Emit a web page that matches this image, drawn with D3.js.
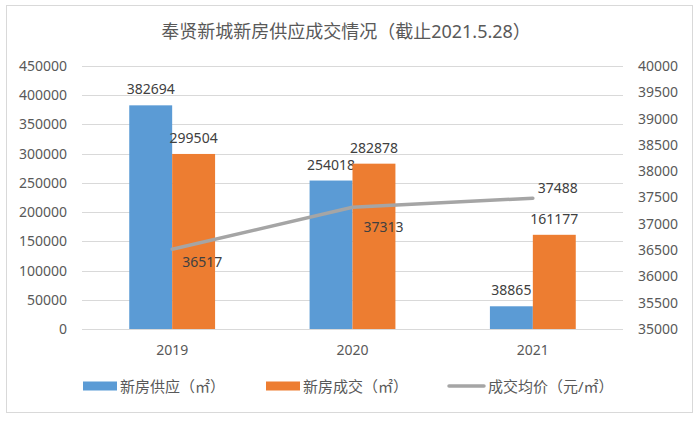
<!DOCTYPE html>
<html><head><meta charset="utf-8">
<script src="https://cdn.jsdelivr.net/npm/d3@7"></script>
<style>body{margin:0;background:#fff}svg{display:block}text{font-family:"Noto Sans","Noto Sans CJK SC",sans-serif}</style>
</head><body>
<script>
const categories = ["2019", "2020", "2021"];
const supply = [382694, 254018, 38865];
const deals = [299504, 282878, 161177];
const avgPrice = [36517, 37313, 37488];
const leftTicks = [0, 50000, 100000, 150000, 200000, 250000, 300000, 350000, 400000, 450000];
const rightTicks = [35000, 35500, 36000, 36500, 37000, 37500, 38000, 38500, 39000, 39500, 40000];
const seriesNames = ["新房供应（㎡）", "新房成交（㎡）", "成交均价（元/㎡）"];
const title = "奉贤新城新房供应成交情况（截止2021.5.28）";

const W = 699, H = 422;
const svg = d3.select("body").append("svg").attr("width", W).attr("height", H);
svg.append("rect").attr("x", 6.5).attr("y", 5.5).attr("width", 686).attr("height", 407)
  .attr("fill", "#fff").attr("stroke", "#d9d9d9");

svg.append("text").attr("x", 346).attr("y", 38).attr("text-anchor", "middle")
  .attr("font-size", 18).attr("fill", "#595959").text(title);

const x0 = 82, x1 = 623, yTop = 66, yBot = 329;
const x = d3.scaleBand().domain(categories).range([x0, x1]);
const yL = d3.scaleLinear().domain([0, 450000]).range([yBot, yTop]);
const yR = d3.scaleLinear().domain([35000, 40000]).range([yBot, yTop]);

// gridlines
svg.append("g").selectAll("line").data(leftTicks).join("line")
  .attr("x1", x0).attr("x2", x1).attr("y1", d => Math.round(yL(d)) + 0.5).attr("y2", d => Math.round(yL(d)) + 0.5)
  .attr("stroke", "#d9d9d9").attr("stroke-width", 1);

// left axis
const gl = svg.append("g").attr("transform", `translate(${x0 - 15},0)`)
  .call(d3.axisLeft(yL).tickValues(leftTicks).tickSize(0).tickPadding(0).tickFormat(d3.format("d")));
gl.select(".domain").remove();
gl.selectAll("text").attr("font-size", 14).attr("fill", "#595959").attr("font-family", '"Noto Sans",sans-serif');

// right axis
const gr = svg.append("g").attr("transform", `translate(${x1 + 15},0)`)
  .call(d3.axisRight(yR).tickValues(rightTicks).tickSize(0).tickPadding(0).tickFormat(d3.format("d")));
gr.select(".domain").remove();
gr.selectAll("text").attr("font-size", 14).attr("fill", "#595959").attr("font-family", '"Noto Sans",sans-serif');

// x axis labels
const gx = svg.append("g").attr("transform", `translate(0,${yBot + 8})`)
  .call(d3.axisBottom(x).tickSize(0).tickPadding(8));
gx.select(".domain").remove();
gx.selectAll("text").attr("font-size", 14).attr("fill", "#595959").attr("font-family", '"Noto Sans",sans-serif');

const bw = x.bandwidth() * 0.238;
const colors = ["#5b9bd5", "#ed7d31"];
[supply, deals].forEach((arr, si) => {
  const g = svg.append("g");
  const bx = (d, i) => x(categories[i]) + x.bandwidth() / 2 + (si === 0 ? -bw : 0);
  g.selectAll("rect").data(arr).join("rect")
    .attr("x", bx).attr("width", bw)
    .attr("y", d => yL(d)).attr("height", d => yBot - yL(d))
    .attr("fill", colors[si]);
  g.selectAll("text").data(arr).join("text")
    .attr("x", (d, i) => bx(d, i) + bw / 2).attr("y", d => yL(d) - 11)
    .attr("text-anchor", "middle").attr("font-size", 14).attr("fill", "#404040").text(d => d);
});

// line
const cx = i => x(categories[i]) + x.bandwidth() / 2;
const line = d3.line().x((d, i) => cx(i)).y(d => yR(d));
svg.append("path").datum(avgPrice).attr("d", line).attr("fill", "none")
  .attr("stroke", "#a5a5a5").attr("stroke-width", 3.5).attr("stroke-linecap", "round");
const lblOff = [[10, 18], [11, 25], [5, -5]];
svg.append("g").selectAll("text").data(avgPrice).join("text")
  .attr("x", (d, i) => cx(i) + lblOff[i][0]).attr("y", (d, i) => yR(d) + lblOff[i][1])
  .attr("font-size", 14).attr("fill", "#404040").text(d => d);

// legend
const ly = 386;
const leg = svg.append("g");
leg.append("rect").attr("x", 83).attr("y", ly - 4.5).attr("width", 34).attr("height", 9).attr("fill", colors[0]);
leg.append("text").attr("x", 120).attr("y", ly + 5.5).attr("font-size", 15).attr("fill", "#595959").text(seriesNames[0]);
leg.append("rect").attr("x", 266).attr("y", ly - 4.5).attr("width", 34).attr("height", 9).attr("fill", colors[1]);
leg.append("text").attr("x", 303).attr("y", ly + 5.5).attr("font-size", 15).attr("fill", "#595959").text(seriesNames[1]);
leg.append("line").attr("x1", 449).attr("x2", 484).attr("y1", ly).attr("y2", ly)
  .attr("stroke", "#a5a5a5").attr("stroke-width", 3.5).attr("stroke-linecap", "round");
leg.append("text").attr("x", 488).attr("y", ly + 5.5).attr("font-size", 15).attr("fill", "#595959").text(seriesNames[2]);
</script>
</body></html>
